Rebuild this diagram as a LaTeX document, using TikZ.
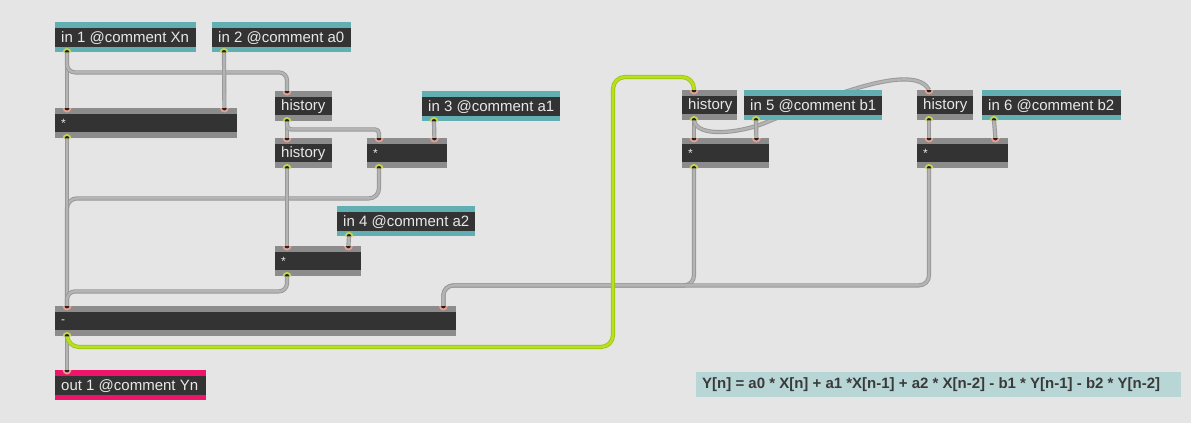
\documentclass[tikz,border=0pt]{standalone}
\usepackage{fontspec}
\setmainfont{Liberation Sans}
\usetikzlibrary{calc}
\pgfdeclarelayer{canvas}
\pgfdeclarelayer{cables}
\pgfsetlayers{canvas,cables,main}
\definecolor{bgc}{HTML}{E5E5E5}
\definecolor{objdark}{HTML}{333333}
\definecolor{objgray}{HTML}{8C8C8C}
\definecolor{tealc}{HTML}{62AFB3}
\definecolor{magc}{HTML}{EE1469}
\definecolor{txtc}{HTML}{E8E8E8}
\definecolor{cordgray}{HTML}{B4B4B4}
\definecolor{cordedge}{HTML}{989898}
\definecolor{cordgreen}{HTML}{B8E01E}
\definecolor{cordgreenedge}{HTML}{9CC410}
\definecolor{inring}{HTML}{E6A090}
\definecolor{outring}{HTML}{C8D448}
\definecolor{portdot}{HTML}{222222}
\definecolor{formbg}{HTML}{B9D6D7}
\definecolor{formtxt}{HTML}{3A3A3A}
\newcommand{\inletat}[1]{%
  \fill[inring] ([xshift=-4.5pt]#1) arc[start angle=180,end angle=360,radius=4.5pt] -- cycle;
  \fill[portdot] ([xshift=-2.4pt]#1) arc[start angle=180,end angle=360,radius=2.4pt] -- cycle;}
\newcommand{\outletat}[1]{%
  \fill[outring] ([xshift=-4.5pt]#1) arc[start angle=180,end angle=0,radius=4.5pt] -- cycle;
  \fill[portdot] ([xshift=-2.4pt]#1) arc[start angle=180,end angle=0,radius=2.4pt] -- cycle;}
\begin{document}
\begin{tikzpicture}[x=1pt,y=-1pt,
  obj/.style={rectangle, anchor=north west, inner sep=0pt, minimum height=30pt, fill=objdark, draw=none},
  stripes/.style n args={3}{path picture={
     \fill[#1] (path picture bounding box.north west) rectangle ([yshift=-#2]path picture bounding box.north east);
     \fill[#1] (path picture bounding box.south west) rectangle ([yshift=#3]path picture bounding box.south east);}},
  gobj/.style={obj, stripes={objgray}{6pt}{6pt}},
  tin/.style={obj, stripes={tealc}{6pt}{5pt}},
  mout/.style={obj, stripes={magc}{6pt}{5pt}},
  lbl/.style={anchor=west, inner sep=0pt, text=txtc, font=\fontsize{15}{17}\selectfont},
  op/.style={anchor=west, inner sep=0pt, text=txtc, font=\fontsize{12}{14}\selectfont},
  cord/.style={draw=cordedge, line width=0.9pt, double=cordgray, double distance=2.4pt, rounded corners=#1},
  cord/.default=8pt,
  gcord/.style={draw=cordgreenedge, line width=0.8pt, double=cordgreen, double distance=2.6pt, rounded corners=#1},
  gcord/.default=12pt,
  formula/.style={rectangle, anchor=north west, inner sep=0pt, fill=formbg, minimum width=485pt, minimum height=25pt},
  ftxt/.style={anchor=west, inner sep=0pt, text=formtxt, font=\bfseries\fontsize{15}{17}\selectfont}
]
\useasboundingbox (0,0) rectangle (1201,426);
\begin{pgfonlayer}{canvas}
  \fill[white] (0,0) rectangle (1201,426);
  \fill[bgc] (0,0) rectangle (1191,423);
\end{pgfonlayer}

% objects
\node[tin, minimum width=141pt] (in1) at (55,22) {};
\node[lbl] (in1t) at ([xshift=6pt,yshift=-0.5pt]in1.west) {in 1 @comment Xn};
\node[tin, minimum width=139pt] (in2) at (212,22) {};
\node[lbl] (in2t) at ([xshift=6pt,yshift=-0.5pt]in2.west) {in 2 @comment a0};
\node[gobj, minimum width=57pt] (hist1) at (275,91) {};
\node[lbl] (hist1t) at ([xshift=6pt]hist1.west) {history};
\node[gobj, minimum width=182pt] (mult1) at (55,108) {};
\node[op] (mult1t) at ([xshift=6pt]mult1.west) {*};
\node[gobj, minimum width=57pt] (hist2) at (275,138) {};
\node[lbl] (hist2t) at ([xshift=6pt]hist2.west) {history};
\node[gobj, minimum width=80pt] (mult2) at (367,138) {};
\node[op] (mult2t) at ([xshift=6pt]mult2.west) {*};
\node[tin, minimum width=138pt] (in3) at (422,91) {};
\node[lbl] (in3t) at ([xshift=6pt,yshift=-0.5pt]in3.west) {in 3 @comment a1};
\node[tin, minimum width=138pt] (in4) at (337,206) {};
\node[lbl] (in4t) at ([xshift=6pt,yshift=-0.5pt]in4.west) {in 4 @comment a2};
\node[gobj, minimum width=86pt] (mult3) at (275,246) {};
\node[op] (mult3t) at ([xshift=6pt]mult3.west) {*};
\node[gobj, minimum width=401pt] (final) at (55,306) {};
\node[op] (finalt) at ([xshift=6pt]final.west) {-};
\node[mout, minimum width=151pt] (out1) at (55,370) {};
\node[lbl] (out1t) at ([xshift=6pt,yshift=-0.5pt]out1.west) {out 1 @comment Yn};
\node[gobj, minimum width=55pt] (hist3) at (682,90) {};
\node[lbl] (hist3t) at ([xshift=6pt]hist3.west) {history};
\node[tin, minimum width=138pt] (in5) at (744,90) {};
\node[lbl] (in5t) at ([xshift=6pt,yshift=-0.5pt]in5.west) {in 5 @comment b1};
\node[gobj, minimum width=87pt] (mult4) at (682,138) {};
\node[op] (mult4t) at ([xshift=6pt]mult4.west) {*};
\node[gobj, minimum width=56pt] (hist4) at (917,90) {};
\node[lbl] (hist4t) at ([xshift=6pt]hist4.west) {history};
\node[tin, minimum width=139pt] (in6) at (982,90) {};
\node[lbl] (in6t) at ([xshift=6pt,yshift=-0.5pt]in6.west) {in 6 @comment b2};
\node[gobj, minimum width=91pt] (mult5) at (917,138) {};
\node[op] (mult5t) at ([xshift=6pt]mult5.west) {*};
\node[formula] (eq) at (696,372) {};
\node[ftxt] (eqt) at ([xshift=6pt]eq.west) {Y[n] = a0 * X[n] + a1 *X[n-1] + a2 * X[n-2] - b1 * Y[n-1] - b2 * Y[n-2]};

% ports
\coordinate (in1o) at ([xshift=12pt]in1.south west);
\coordinate (in2o) at ([xshift=12pt]in2.south west);
\coordinate (in3o) at ([xshift=12pt]in3.south west);
\coordinate (in4o) at ([xshift=12pt]in4.south west);
\coordinate (in5o) at ([xshift=12pt]in5.south west);
\coordinate (in6o) at ([xshift=12pt]in6.south west);
\coordinate (hist1i) at ([xshift=12pt]hist1.north west);
\coordinate (hist1o) at ([xshift=12pt]hist1.south west);
\coordinate (hist2i) at ([xshift=12pt]hist2.north west);
\coordinate (hist2o) at ([xshift=12pt]hist2.south west);
\coordinate (hist3i) at ([xshift=12pt]hist3.north west);
\coordinate (hist3o) at ([xshift=12pt]hist3.south west);
\coordinate (hist4i) at ([xshift=12pt]hist4.north west);
\coordinate (hist4o) at ([xshift=12pt]hist4.south west);
\coordinate (mult1a) at ([xshift=12pt]mult1.north west);
\coordinate (mult1b) at ([xshift=-13pt]mult1.north east);
\coordinate (mult1o) at ([xshift=12pt]mult1.south west);
\coordinate (mult2a) at ([xshift=12pt]mult2.north west);
\coordinate (mult2b) at ([xshift=-13pt]mult2.north east);
\coordinate (mult2o) at ([xshift=12pt]mult2.south west);
\coordinate (mult3a) at ([xshift=12pt]mult3.north west);
\coordinate (mult3b) at ([xshift=-13pt]mult3.north east);
\coordinate (mult3o) at ([xshift=12pt]mult3.south west);
\coordinate (mult4a) at ([xshift=12pt]mult4.north west);
\coordinate (mult4b) at ([xshift=-13pt]mult4.north east);
\coordinate (mult4o) at ([xshift=12pt]mult4.south west);
\coordinate (mult5a) at ([xshift=12pt]mult5.north west);
\coordinate (mult5b) at ([xshift=-13pt]mult5.north east);
\coordinate (mult5o) at ([xshift=12pt]mult5.south west);
\coordinate (finala) at ([xshift=12pt]final.north west);
\coordinate (finalb) at ([xshift=-13pt]final.north east);
\coordinate (finalo) at ([xshift=12pt]final.south west);
\coordinate (out1i) at ([xshift=12pt]out1.north west);

\begin{pgfonlayer}{cables}
  \draw[cord] (in1o) -- (mult1a);
  \draw[cord] (in1o) -- ++(0,20) -| (hist1i);
  \draw[cord] (in2o) -- (mult1b);
  \draw[cord] (hist1o) -- (hist2i);
  \draw[cord=4pt] (hist1o) -- ++(0,8) -| (mult2a);
  \draw[cord] (in3o) -- (mult2b);
  \draw[cord=10pt] (mult2o) -- ++(0,30) -| (finala);
  \draw[cord] (mult1o) -- (finala);
  \draw[cord] (hist2o) -- (mult3a);
  \draw[cord] (in4o) -- (mult3b);
  \draw[cord] (mult3o) -- ++(0,15) -| (finala);
  \draw[cord=10pt] (mult4o) -- ++(0,117) -| (finalb);
  \draw[cord=10pt] (mult5o) -- ++(0,117) -| (finalb);
  \draw[cord] (finalo) -- (out1i);
  \draw[gcord] (finalo) -- (finalo |- 0,347) -- (613,347) -- (613,77) -- (hist3i |- 0,77) -- (hist3i);
  \draw[cord] (hist3o) -- (mult4a);
  \draw[cord] (hist3o) .. controls (697,138) and (740,133) .. (772,120)
                       .. controls (830,96) and (915,62) .. (hist4i);
  \draw[cord] (in5o) -- (mult4b);
  \draw[cord] (hist4o) -- (mult5a);
  \draw[cord] (in6o) -- (mult5b);
\end{pgfonlayer}

\foreach \p in {hist1i,hist2i,hist3i,hist4i,mult1a,mult1b,mult2a,mult2b,mult3a,mult3b,mult4a,mult4b,mult5a,mult5b,finala,finalb,out1i}{\inletat{\p}}
\foreach \p in {in1o,in2o,in3o,in4o,in5o,in6o,hist1o,hist2o,hist3o,hist4o,mult1o,mult2o,mult3o,mult4o,mult5o,finalo}{\outletat{\p}}
\end{tikzpicture}
\end{document}
